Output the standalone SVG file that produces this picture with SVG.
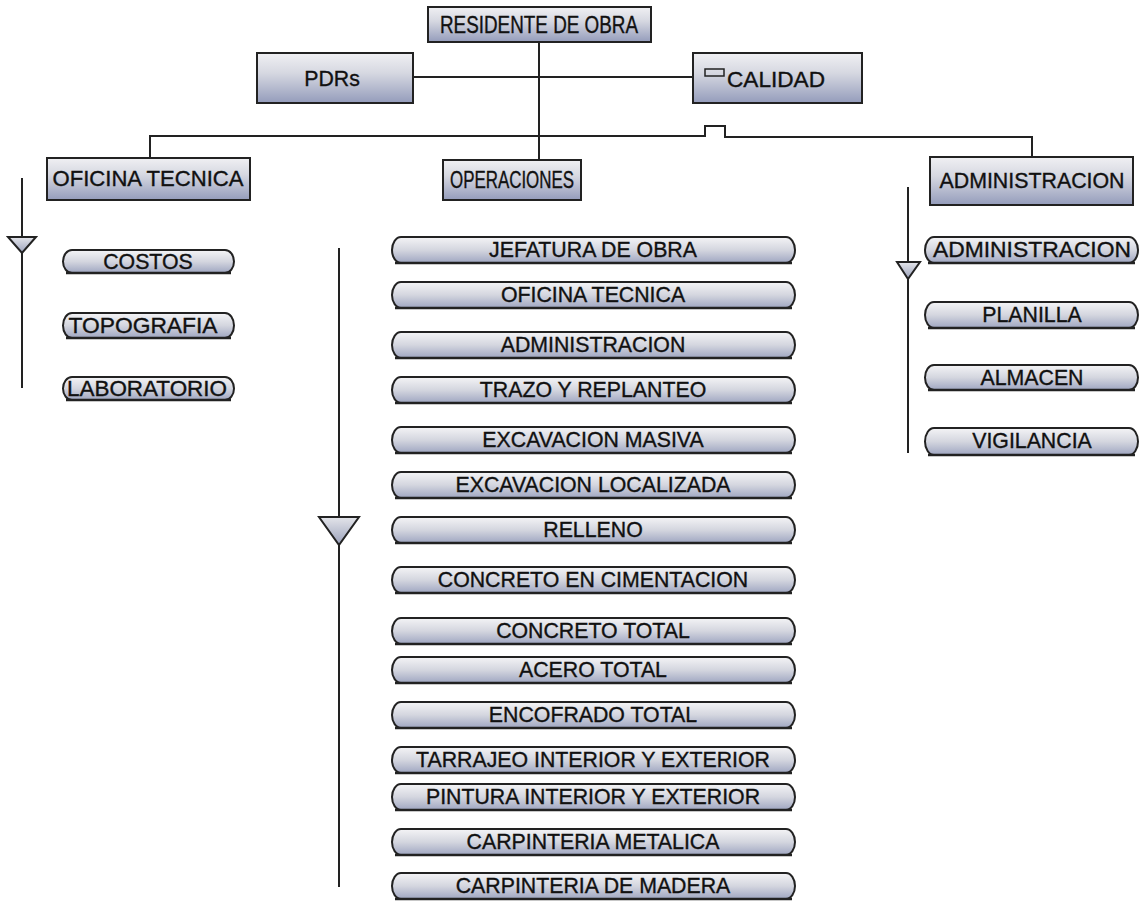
<svg xmlns="http://www.w3.org/2000/svg" width="1141" height="901" viewBox="0 0 1141 901">
<defs>
<linearGradient id="gBox" x1="0" y1="0" x2="0" y2="1">
<stop offset="0" stop-color="#f0f0f3"/>
<stop offset="0.4" stop-color="#d6d8e1"/>
<stop offset="1" stop-color="#949cbb"/>
</linearGradient>
<linearGradient id="gPill" x1="0" y1="0" x2="0" y2="1">
<stop offset="0" stop-color="#f4f4f6"/>
<stop offset="0.5" stop-color="#d4d6df"/>
<stop offset="1" stop-color="#9fa6c1"/>
</linearGradient>
<linearGradient id="gTri" x1="0" y1="0" x2="0" y2="1">
<stop offset="0" stop-color="#e4e5ea"/>
<stop offset="1" stop-color="#9aa1bb"/>
</linearGradient>
</defs>
<style>
.box{fill:url(#gBox);stroke:#222;stroke-width:2}
.pill{fill:url(#gPill);stroke:#222;stroke-width:2}
.base{stroke:#222;stroke-width:2.5;fill:none}
.t{font-family:"Liberation Sans",Arial,sans-serif;font-size:21.3px;fill:#111;stroke:#111;stroke-width:0.35;text-anchor:middle;dominant-baseline:central}
.big{font-size:23px}
.ln{stroke:#222;stroke-width:2;fill:none}
.tri{fill:url(#gTri);stroke:#222;stroke-width:2}
</style>
<rect width="1141" height="901" fill="#ffffff"/>

<g id="connectors">
<line class="ln" x1="539" y1="42" x2="539" y2="160"/>
<line class="ln" x1="413" y1="77" x2="705" y2="77"/>
<path class="ln" d="M150,158 V136 H705 V126 H725 V137 H1032 V157"/>
<line class="ln" x1="22" y1="178" x2="22" y2="388"/>
<polygon class="tri" points="8,237 36,237 22,253"/>
<line class="ln" x1="339" y1="248" x2="339" y2="887"/>
<polygon class="tri" points="319,517 359,517 339,545"/>
<line class="ln" x1="908" y1="187" x2="908" y2="453"/>
<polygon class="tri" points="897,262 920,262 908,279"/>
</g>

<g id="n-residente"><rect class="box" x="428" y="7" width="223" height="35"/><text class="t big" x="539" y="25" textLength="198" lengthAdjust="spacingAndGlyphs">RESIDENTE DE OBRA</text></g>
<g id="n-pdrs"><rect class="box" x="257" y="53" width="156" height="50"/><text class="t" x="332" y="79">PDRs</text></g>
<g id="n-calidad"><rect class="box" x="693" y="53" width="169" height="50"/><rect x="705" y="69" width="19" height="7" fill="none" stroke="#222" stroke-width="1.5"/><text class="t" x="727" y="80" style="text-anchor:start" textLength="98" lengthAdjust="spacingAndGlyphs">CALIDAD</text></g>
<g id="n-oficina"><rect class="box" x="47" y="158" width="203" height="42"/><text class="t" x="148" y="179" textLength="191" lengthAdjust="spacingAndGlyphs">OFICINA TECNICA</text></g>
<g id="n-operaciones"><rect class="box" x="443" y="160" width="138" height="40"/><text class="t big" x="512" y="180" textLength="124" lengthAdjust="spacingAndGlyphs">OPERACIONES</text></g>
<g id="n-administracion"><rect class="box" x="930" y="157" width="203" height="48"/><text class="t" x="1032" y="181" textLength="185" lengthAdjust="spacingAndGlyphs">ADMINISTRACION</text></g>

<g id="n-costos"><path class="pill" d="M72,250 H225 A9,11.5 0 0 1 225,273 H72 A9,11.5 0 0 1 72,250 Z"/><line class="base" x1="66" y1="273" x2="231" y2="273"/><text class="t" x="148" y="262">COSTOS</text></g>
<g id="n-topografia"><path class="pill" d="M72,313 H225 A9,12.5 0 0 1 225,338 H72 A9,12.5 0 0 1 72,313 Z"/><line class="base" x1="66" y1="338" x2="231" y2="338"/><text class="t" x="143" y="326" textLength="149" lengthAdjust="spacingAndGlyphs">TOPOGRAFIA</text></g>
<g id="n-laboratorio"><path class="pill" d="M72,377 H225 A9,11.5 0 0 1 225,400 H72 A9,11.5 0 0 1 72,377 Z"/><line class="base" x1="66" y1="400" x2="231" y2="400"/><text class="t" x="147" y="389" textLength="160" lengthAdjust="spacingAndGlyphs">LABORATORIO</text></g>

<g id="n-r-admin"><path class="pill" d="M934,237 H1129 A9,13 0 0 1 1129,263 H934 A9,13 0 0 1 934,237 Z"/><line class="base" x1="928" y1="263" x2="1135" y2="263"/><text class="t" x="1032" y="250" textLength="198" lengthAdjust="spacingAndGlyphs">ADMINISTRACION</text></g>
<g id="n-planilla"><path class="pill" d="M934,302 H1129 A9,13 0 0 1 1129,328 H934 A9,13 0 0 1 934,302 Z"/><line class="base" x1="928" y1="328" x2="1135" y2="328"/><text class="t" x="1032" y="315">PLANILLA</text></g>
<g id="n-almacen"><path class="pill" d="M934,365 H1129 A9,12.5 0 0 1 1129,390 H934 A9,12.5 0 0 1 934,365 Z"/><line class="base" x1="928" y1="390" x2="1135" y2="390"/><text class="t" x="1032" y="378">ALMACEN</text></g>
<g id="n-vigilancia"><path class="pill" d="M934,428 H1129 A9,13.5 0 0 1 1129,455 H934 A9,13.5 0 0 1 934,428 Z"/><line class="base" x1="928" y1="455" x2="1135" y2="455"/><text class="t" x="1032" y="441">VIGILANCIA</text></g>

<g id="n-jefatura"><path class="pill" d="M401,237 H786 A9,13 0 0 1 786,263 H401 A9,13 0 0 1 401,237 Z"/><line class="base" x1="395" y1="263" x2="792" y2="263"/><text class="t" x="593" y="250">JEFATURA DE OBRA</text></g>
<g id="n-m-oficina"><path class="pill" d="M401,282 H786 A9,13 0 0 1 786,308 H401 A9,13 0 0 1 401,282 Z"/><line class="base" x1="395" y1="308" x2="792" y2="308"/><text class="t" x="593" y="295">OFICINA TECNICA</text></g>
<g id="n-m-admin"><path class="pill" d="M401,332 H786 A9,13 0 0 1 786,358 H401 A9,13 0 0 1 401,332 Z"/><line class="base" x1="395" y1="358" x2="792" y2="358"/><text class="t" x="593" y="345">ADMINISTRACION</text></g>
<g id="n-trazo"><path class="pill" d="M401,377 H786 A9,13 0 0 1 786,403 H401 A9,13 0 0 1 401,377 Z"/><line class="base" x1="395" y1="403" x2="792" y2="403"/><text class="t" x="593" y="390">TRAZO Y REPLANTEO</text></g>
<g id="n-exc-masiva"><path class="pill" d="M401,427 H786 A9,13 0 0 1 786,453 H401 A9,13 0 0 1 401,427 Z"/><line class="base" x1="395" y1="453" x2="792" y2="453"/><text class="t" x="593" y="440">EXCAVACION MASIVA</text></g>
<g id="n-exc-local"><path class="pill" d="M401,472 H786 A9,13 0 0 1 786,498 H401 A9,13 0 0 1 401,472 Z"/><line class="base" x1="395" y1="498" x2="792" y2="498"/><text class="t" x="593" y="485">EXCAVACION LOCALIZADA</text></g>
<g id="n-relleno"><path class="pill" d="M401,517 H786 A9,13 0 0 1 786,543 H401 A9,13 0 0 1 401,517 Z"/><line class="base" x1="395" y1="543" x2="792" y2="543"/><text class="t" x="593" y="530">RELLENO</text></g>
<g id="n-conc-cim"><path class="pill" d="M401,567 H786 A9,13 0 0 1 786,593 H401 A9,13 0 0 1 401,567 Z"/><line class="base" x1="395" y1="593" x2="792" y2="593"/><text class="t" x="593" y="580">CONCRETO EN CIMENTACION</text></g>
<g id="n-conc-total"><path class="pill" d="M401,618 H786 A9,13 0 0 1 786,644 H401 A9,13 0 0 1 401,618 Z"/><line class="base" x1="395" y1="644" x2="792" y2="644"/><text class="t" x="593" y="631">CONCRETO TOTAL</text></g>
<g id="n-acero"><path class="pill" d="M401,657 H786 A9,13 0 0 1 786,683 H401 A9,13 0 0 1 401,657 Z"/><line class="base" x1="395" y1="683" x2="792" y2="683"/><text class="t" x="593" y="670">ACERO TOTAL</text></g>
<g id="n-encofrado"><path class="pill" d="M401,702 H786 A9,13 0 0 1 786,728 H401 A9,13 0 0 1 401,702 Z"/><line class="base" x1="395" y1="728" x2="792" y2="728"/><text class="t" x="593" y="715">ENCOFRADO TOTAL</text></g>
<g id="n-tarrajeo"><path class="pill" d="M401,747 H786 A9,13 0 0 1 786,773 H401 A9,13 0 0 1 401,747 Z"/><line class="base" x1="395" y1="773" x2="792" y2="773"/><text class="t" x="593" y="760">TARRAJEO INTERIOR Y EXTERIOR</text></g>
<g id="n-pintura"><path class="pill" d="M401,784 H786 A9,13 0 0 1 786,810 H401 A9,13 0 0 1 401,784 Z"/><line class="base" x1="395" y1="810" x2="792" y2="810"/><text class="t" x="593" y="797">PINTURA INTERIOR Y EXTERIOR</text></g>
<g id="n-carp-met"><path class="pill" d="M401,829 H786 A9,13 0 0 1 786,855 H401 A9,13 0 0 1 401,829 Z"/><line class="base" x1="395" y1="855" x2="792" y2="855"/><text class="t" x="593" y="842">CARPINTERIA METALICA</text></g>
<g id="n-carp-mad"><path class="pill" d="M401,873 H786 A9,13 0 0 1 786,899 H401 A9,13 0 0 1 401,873 Z"/><line class="base" x1="395" y1="899" x2="792" y2="899"/><text class="t" x="593" y="886">CARPINTERIA DE MADERA</text></g>
</svg>
